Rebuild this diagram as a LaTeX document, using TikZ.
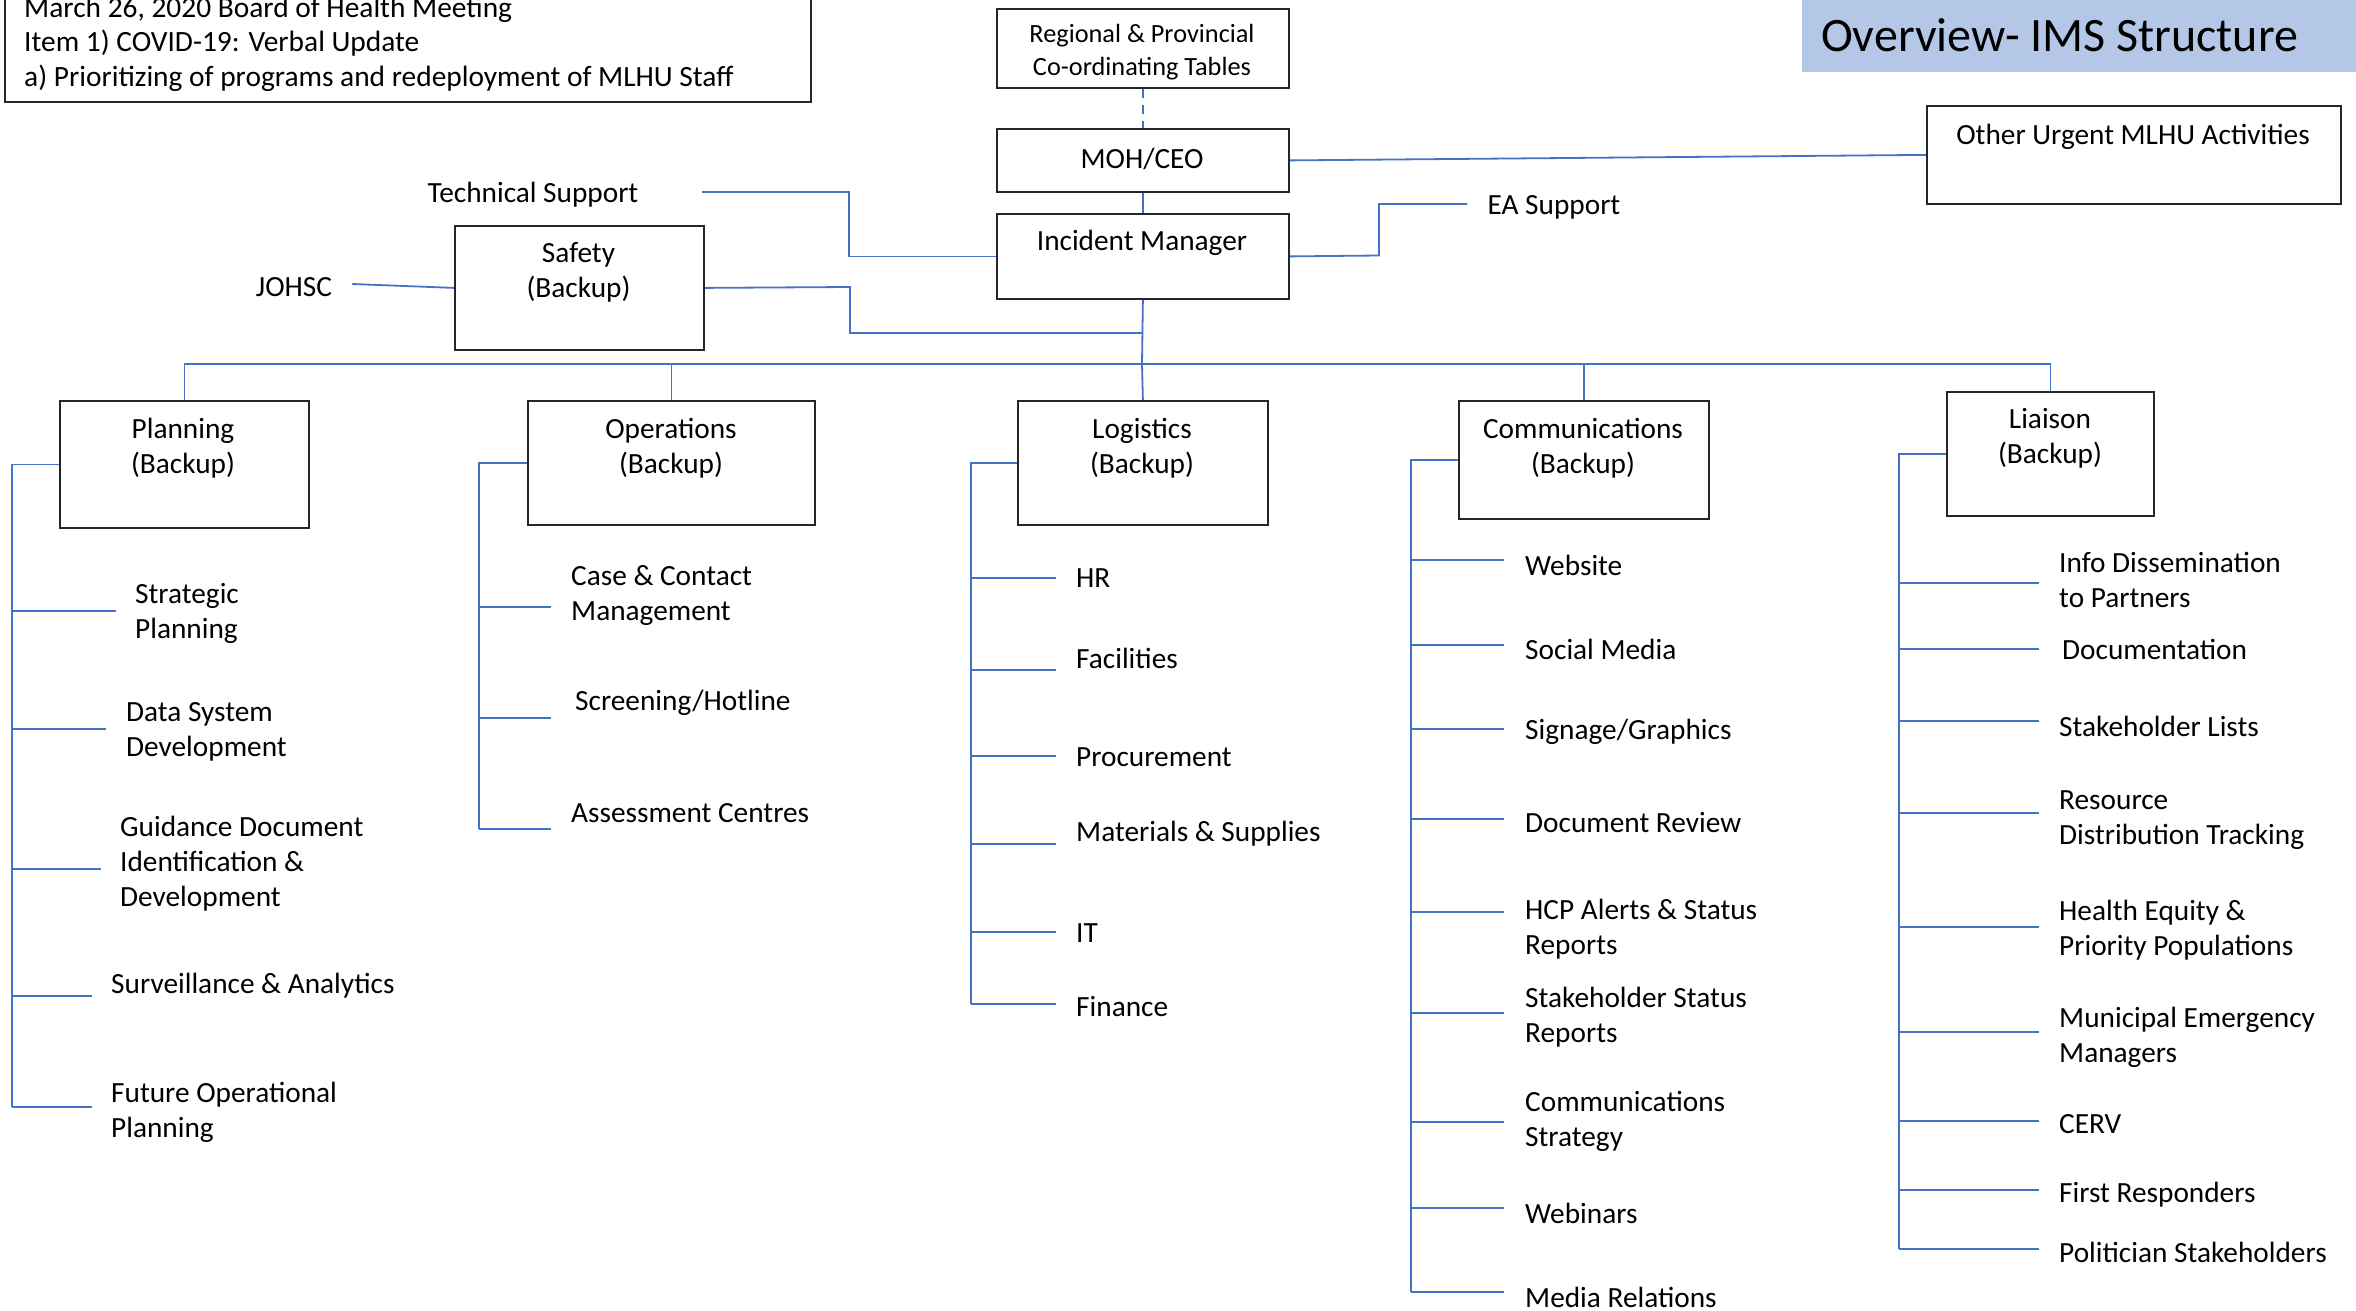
\documentclass[tikz,border=0pt]{standalone}
\usepackage{fontspec}
\setmainfont{Carlito}
\usetikzlibrary{calc}
\definecolor{lnblue}{HTML}{4472C4}
\definecolor{ttlblue}{HTML}{B4C7E7}
\newcommand\fsn{\fontsize{29.3}{35}\selectfont}
\tikzset{
  box/.style={draw=black!85, line width=1.8pt, anchor=north west, inner sep=0pt},
  conn/.style={draw=lnblue, line width=1.8pt},
  lbl/.style={font=\fsn, inner sep=0pt, align=center, yshift=-3pt},
  item/.style={font=\fsn, inner sep=0pt, anchor=west, align=left, yshift=-3pt}
}
\begin{document}
\begin{tikzpicture}[x=1pt, y=-1pt]
\useasboundingbox (0,0) rectangle (2356,1311);
\fill[white] (0,0) rectangle (2356,1311);
% title
\fill[ttlblue] (1802,-5) rectangle (2356,72);
\node[font=\fontsize{48}{56}\selectfont, inner sep=0pt, anchor=west, yshift=-2pt] (title) at (1821,33) {Overview- IMS Structure};
% header box
\draw[black!85, line width=1.8pt] (5,-10) rectangle (811,102);
\node[font=\fontsize{29.4}{34.5}\selectfont, inner sep=0pt, anchor=west, align=left, yshift=-3pt] (hdr) at (24,41) {March 26, 2020 Board of Health Meeting\\Item 1) COVID-19: Verbal Update\\a) Prioritizing of programs and redeployment of MLHU Staff};
% top boxes
\node[box, minimum width=292pt, minimum height=79pt] (reg) at (996,8) {};
\node[lbl, font=\fontsize{26.3}{33}\selectfont] (regt) at (1142,49.5) {Regional \& Provincial\\Co-ordinating Tables};
\node[box, minimum width=292pt, minimum height=63pt] (moh) at (996,128) {};
\node[lbl] (moht) at (1142,156) {MOH/CEO};
\node[box, minimum width=292pt, minimum height=85pt] (im) at (996,213) {};
\node[lbl] (imt) at (1142,240) {Incident Manager};
\node[box, minimum width=414pt, minimum height=98pt] (oth) at (1926,105) {};
\node[lbl] (otht) at (2133,134) {Other Urgent MLHU Activities};
\node[box, minimum width=249pt, minimum height=124pt] (saf) at (454,225) {};
\node[lbl] (saft) at (578.5,269.5) {Safety\\(Backup)};
\node[lbl] (tech) at (533,192) {Technical Support};
\node[lbl] (johsc) at (294,284) {JOHSC};
\node[lbl] (ea) at (1554,204) {EA Support};
% section boxes
\node[box, minimum width=249pt, minimum height=127pt] (plan) at (59,400) {};
\node[lbl] (plant) at (183,445) {Planning\\(Backup)};
\node[box, minimum width=287pt, minimum height=124pt] (ops) at (527,400) {};
\node[lbl] (opst) at (671,445) {Operations\\(Backup)};
\node[box, minimum width=250pt, minimum height=124pt] (log) at (1017,400) {};
\node[lbl] (logt) at (1142,445) {Logistics\\(Backup)};
\node[box, minimum width=250pt, minimum height=118pt] (comm) at (1458,400) {};
\node[lbl] (commt) at (1583,445) {Communications\\(Backup)};
\node[box, minimum width=207pt, minimum height=124pt] (liai) at (1946,391) {};
\node[lbl] (liait) at (2050,435) {Liaison\\(Backup)};
% top connectors
\draw[conn, dashed, dash pattern=on 9pt off 7pt] (reg.south) -- (moh.north);
\draw[conn] (moh.south) -- (im.north);
\draw[conn] (moh.east) -- (oth.west);
\coordinate (tsend) at (702,192);
\draw[conn] (tsend) -- (849,192) |- (im.west);
\draw[conn] (im.east) -- (1379,255.5) |- ([xshift=-20pt,yshift=3pt]ea.west);
\draw[conn] ([xshift=20pt,yshift=3pt]johsc.east) -- (saf.west);
\coordinate (imj) at (1142,333);
\draw[conn] (saf.east) -- (850,287) |- (imj);
\coordinate (bus) at (1142,364);
\draw[conn] (im.south) -- (bus);
\draw[conn] (plan.north) |- (bus);
\draw[conn] (bus) -| (liai.north);
\draw[conn] (ops.north) -- (ops.north |- bus);
\draw[conn] (log.north) -- (bus);
\draw[conn] (comm.north) -- (comm.north |- bus);
% Planning branch
\draw[conn] (plan.west) -| (12,1107);
\foreach \n/\tx/\ty/\ky/\kx/\t in {
 p1/135/610/611/116/{Strategic\\Planning},
 p2/126/729/729/106/{Data System\\Development},
 p3/120/861/869/101/{Guidance Document\\Identification \&\\Development},
 p4/111/983/996/92/{Surveillance \& Analytics},
 p5/111/1109/1107/92/{Future Operational\\Planning}}{
 \node[item] (\n) at (\tx,\ty) {\t};
 \draw[conn] (12,\ky) -- (\kx,\ky);
}
% Operations branch
\draw[conn] (ops.west) -| (479,829);
\foreach \n/\tx/\ty/\ky/\t in {
 o1/571/593/607/{Case \& Contact\\Management},
 o2/575/700/718/{Screening/Hotline},
 o3/571/810/829/{Assessment Centres}}{
 \node[item] (\n) at (\tx,\ty) {\t};
 \draw[conn] (479,\ky) -- (551,\ky);
}
% Logistics branch
\draw[conn] (log.west) -| (971,1004);
\foreach \n/\ty/\ky/\t in {
 l1/575/578/{HR},
 l2/655/670/{Facilities},
 l3/754/756/{Procurement},
 l4/831/844/{Materials \& Supplies},
 l5/930/932/{IT},
 l6/1004/1004/{Finance}}{
 \node[item] (\n) at (1076,\ty) {\t};
 \draw[conn] (971,\ky) -- (1056,\ky);
}
% Communications branch
\draw[conn] (comm.west) -| (1411,1292);
\foreach \n/\ty/\ky/\t in {
 c1/562/560/{Website},
 c2/646/645/{Social Media},
 c3/729/729/{Signage/Graphics},
 c4/820/819/{Document Review},
 c5/926/912/{HCP Alerts \& Status\\Reports},
 c6/1014/1013/{Stakeholder Status\\Reports},
 c7/1118/1122/{Communications\\Strategy},
 c8/1210/1208/{Webinars},
 c9/1294/1292/{Media Relations}}{
 \node[item] (\n) at (1525,\ty) {\t};
 \draw[conn] (1411,\ky) -- (1504,\ky);
}
% Liaison branch
\draw[conn] (liai.west) -| (1899,1249);
\foreach \n/\tx/\ty/\ky/\t in {
 s1/2059/577/583/{Info Dissemination\\to Partners},
 s2/2062/646/649/{Documentation},
 s3/2059/723/721/{Stakeholder Lists},
 s4/2059/817/813/{Resource\\Distribution Tracking},
 s5/2059/927/927/{Health Equity \&\\Priority Populations},
 s6/2059/1034/1032/{Municipal Emergency\\Managers},
 s7/2059/1121/1121/{CERV},
 s8/2059/1192/1190/{First Responders},
 s9/2059/1249/1249/{Politician Stakeholders}}{
 \node[item] (\n) at (\tx,\ty) {\t};
 \draw[conn] (1899,\ky) -- (2039,\ky);
}
\end{tikzpicture}
\end{document}
